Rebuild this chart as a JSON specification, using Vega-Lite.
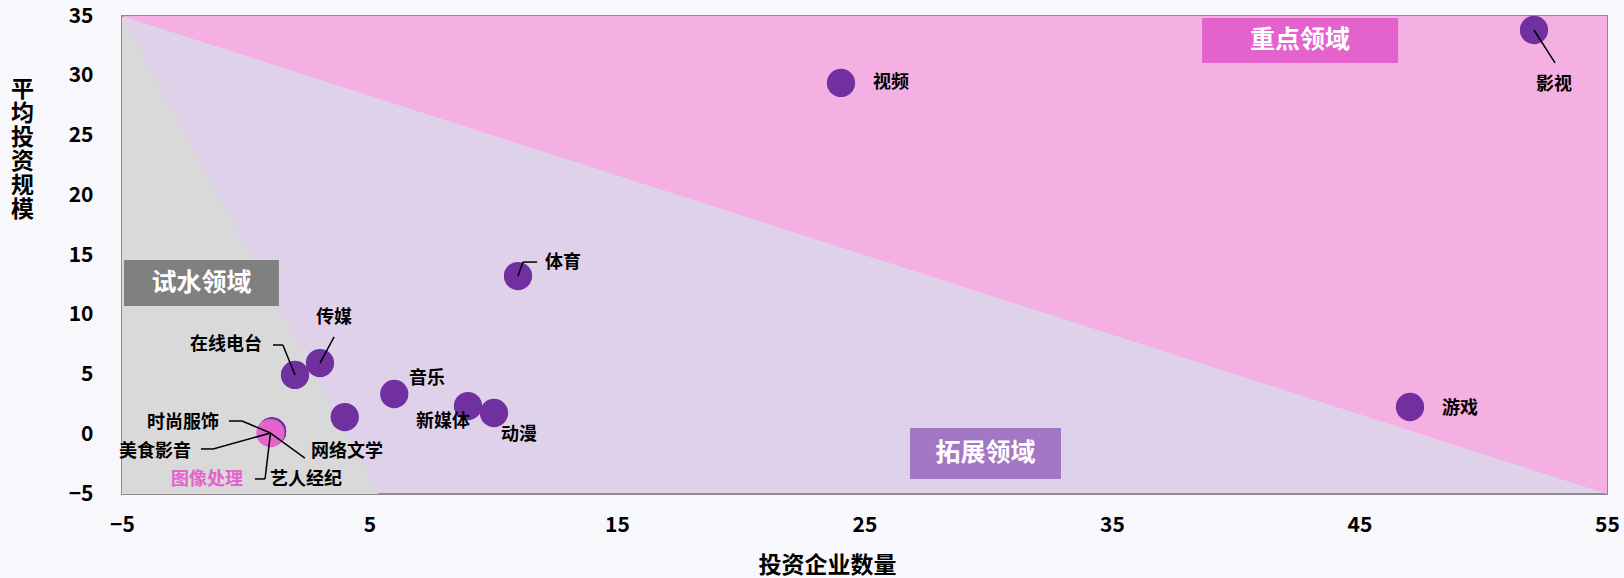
{
  "$schema": "https://vega.github.io/schema/vega-lite/v6.json",
  "width": 1485,
  "height": 478,
  "autosize": {"type": "none"},
  "padding": {"left": 122, "top": 16, "right": 17, "bottom": 84},
  "background": "#F8F8FC",
  "config": {
    "font": "Noto Sans CJK SC",
    "view": {"fill": "#E0D1EB", "stroke": "#8C8C8C", "strokeWidth": 2}
  },
  "datasets": {
    "tri": [
      {"zone": "pink", "x": -5, "y": 35, "y2": 35},
      {"zone": "pink", "x": 55, "y": -5, "y2": 35},
      {"zone": "gray", "x": -5, "y": 35, "y2": -5},
      {"zone": "gray", "x": 5.37, "y": -5, "y2": -5}
    ],
    "zones": [
      {"name": "重点领域", "x1": 38.64, "x2": 46.56, "y1": 31.07, "y2": 34.83, "cx": 42.6, "cy": 32.95},
      {"name": "试水领域", "x1": -4.92, "x2": 1.34, "y1": 10.73, "y2": 14.58, "cx": -1.79, "cy": 12.65},
      {"name": "拓展领域", "x1": 26.84, "x2": 32.94, "y1": -3.74, "y2": 0.52, "cx": 29.89, "cy": -1.61}
    ],
    "points": [
      {"name": "影视", "x": 52.05, "y": 33.83, "lx": 52.86, "ly": 29.23, "group": "main"},
      {"name": "视频", "x": 24.05, "y": 29.4, "lx": 26.07, "ly": 29.4, "group": "main"},
      {"name": "体育", "x": 11.0, "y": 13.24, "lx": 12.82, "ly": 14.33, "group": "main"},
      {"name": "游戏", "x": 47.04, "y": 2.28, "lx": 49.06, "ly": 2.11, "group": "main"},
      {"name": "传媒", "x": 3.0, "y": 5.96, "lx": 3.57, "ly": 9.73, "group": "main"},
      {"name": "在线电台", "x": 1.99, "y": 4.96, "lx": -0.8, "ly": 7.47, "group": "main"},
      {"name": "音乐", "x": 6.0, "y": 3.37, "lx": 7.32, "ly": 4.62, "group": "main"},
      {"name": "新媒体", "x": 8.98, "y": 2.36, "lx": 7.97, "ly": 1.03, "group": "main"},
      {"name": "动漫", "x": 10.03, "y": 1.78, "lx": 11.04, "ly": -0.06, "group": "main"},
      {"name": "", "x": 4.0, "y": 1.44, "lx": 4.0, "ly": 1.44, "group": "main"},
      {"name": "时尚服饰", "x": 1.06, "y": 0.22, "lx": -2.54, "ly": 0.94, "group": "main"},
      {"name": "美食影音", "x": 1.06, "y": 0.22, "lx": -3.67, "ly": -1.49, "group": "main"},
      {"name": "网络文学", "x": 1.06, "y": 0.22, "lx": 4.09, "ly": -1.49, "group": "main"},
      {"name": "艺人经纪", "x": 1.06, "y": 0.22, "lx": 2.43, "ly": -3.83, "group": "main"},
      {"name": "图像处理", "x": 1.0, "y": 0.1, "lx": -1.57, "ly": -3.83, "group": "image"}
    ],
    "leaders": [
      {"x": 52.05, "y": 33.83, "x2": 52.9, "y2": 31.07},
      {"x": 11.0, "y": 13.24, "x2": 11.2, "y2": 14.41},
      {"x": 11.2, "y": 14.41, "x2": 11.77, "y2": 14.41},
      {"x": 3.0, "y": 5.96, "x2": 3.57, "y2": 8.14},
      {"x": 1.1, "y": 7.47, "x2": 1.5, "y2": 7.47},
      {"x": 1.5, "y": 7.47, "x2": 1.99, "y2": 4.96},
      {"x": -0.68, "y": 1.11, "x2": -0.15, "y2": 1.11},
      {"x": -0.15, "y": 1.11, "x2": 1.0, "y2": 0.1},
      {"x": -1.81, "y": -1.23, "x2": -1.32, "y2": -1.23},
      {"x": -1.32, "y": -1.23, "x2": 1.0, "y2": 0.1},
      {"x": 1.0, "y": 0.1, "x2": 2.39, "y2": -1.99},
      {"x": 0.37, "y": -3.74, "x2": 0.78, "y2": -3.74},
      {"x": 0.78, "y": -3.74, "x2": 1.0, "y2": 0.1}
    ]
  },
  "layer": [
    {
      "data": {"name": "tri"},
      "mark": {"type": "area", "opacity": 1},
      "encoding": {
        "x": {
          "field": "x", "type": "quantitative",
          "scale": {"domain": [-5, 55], "nice": false, "zero": false},
          "axis": {
            "values": [-5, 5, 15, 25, 35, 45, 55],
            "title": "投资企业数量",
            "titleFont": "Noto Sans CJK SC", "titleFontSize": 23, "titleFontWeight": "bold", "titleColor": "#000000",
            "titleX": 705, "titleY": 71, "titleBaseline": "middle", "titleAnchor": null, "titleAlign": "center",
            "labelFont": "Noto Sans CJK SC", "labelFontSize": 21, "labelFontWeight": "bold", "labelColor": "#000000",
            "labelPadding": 20, "labelFlush": false, "labelOverlap": false,
            "ticks": false, "domain": false, "grid": false
          }
        },
        "y": {
          "field": "y", "type": "quantitative", "stack": null,
          "scale": {"domain": [-5, 35], "nice": false, "zero": false},
          "axis": {
            "values": [-5, 0, 5, 10, 15, 20, 25, 30, 35],
            "title": ["平", "均", "投", "资", "规", "模"],
            "titleFont": "Noto Sans CJK SC", "titleFontSize": 23, "titleFontWeight": "bold", "titleColor": "#000000",
            "titleAngle": 0, "titleAlign": "center", "titleBaseline": "top", "titleLineHeight": 24,
            "titleX": -100, "titleY": 62, "titleAnchor": null,
            "labelFont": "Noto Sans CJK SC", "labelFontSize": 21, "labelFontWeight": "bold", "labelColor": "#000000",
            "labelPadding": 29, "labelFlush": false, "labelOverlap": false,
            "ticks": false, "domain": false, "grid": false
          }
        },
        "y2": {"field": "y2"},
        "color": {
          "field": "zone", "type": "nominal",
          "scale": {"domain": ["pink", "gray"], "range": ["#F4B0E3", "#D9D9D9"]},
          "legend": null
        }
      }
    },
    {
      "data": {"name": "zones"},
      "mark": {"type": "rect"},
      "encoding": {
        "x": {"field": "x1", "type": "quantitative"},
        "x2": {"field": "x2"},
        "y": {"field": "y1", "type": "quantitative"},
        "y2": {"field": "y2"},
        "color": {
          "field": "name", "type": "nominal",
          "scale": {"domain": ["重点领域", "试水领域", "拓展领域"], "range": ["#E362CC", "#808080", "#A477C4"]},
          "legend": null
        }
      }
    },
    {
      "data": {"name": "zones"},
      "mark": {"type": "text", "font": "Noto Sans CJK SC", "fontSize": 25, "fontWeight": "bold", "color": "#FFFFFF", "align": "center", "baseline": "middle"},
      "encoding": {
        "x": {"field": "cx", "type": "quantitative"},
        "y": {"field": "cy", "type": "quantitative"},
        "text": {"field": "name"}
      }
    },
    {
      "data": {"name": "points"},
      "mark": {"type": "circle", "size": 800, "opacity": 1},
      "encoding": {
        "x": {"field": "x", "type": "quantitative"},
        "y": {"field": "y", "type": "quantitative"},
        "color": {
          "field": "group", "type": "nominal",
          "scale": {"domain": ["main", "image"], "range": ["#7030A0", "#E364CC"]},
          "legend": null
        }
      }
    },
    {
      "data": {"name": "leaders"},
      "mark": {"type": "rule", "color": "#000000", "strokeWidth": 1.5},
      "encoding": {
        "x": {"field": "x", "type": "quantitative"},
        "y": {"field": "y", "type": "quantitative"},
        "x2": {"field": "x2"},
        "y2": {"field": "y2"}
      }
    },
    {
      "data": {"name": "points"},
      "mark": {"type": "text", "font": "Noto Sans CJK SC", "fontSize": 18, "fontWeight": "bold", "align": "center", "baseline": "middle"},
      "encoding": {
        "x": {"field": "lx", "type": "quantitative"},
        "y": {"field": "ly", "type": "quantitative"},
        "text": {"field": "name"},
        "color": {
          "field": "group", "type": "nominal",
          "scale": {"domain": ["main", "image"], "range": ["#000000", "#E364CC"]},
          "legend": null
        }
      }
    }
  ],
  "resolve": {"scale": {"color": "independent"}}
}
